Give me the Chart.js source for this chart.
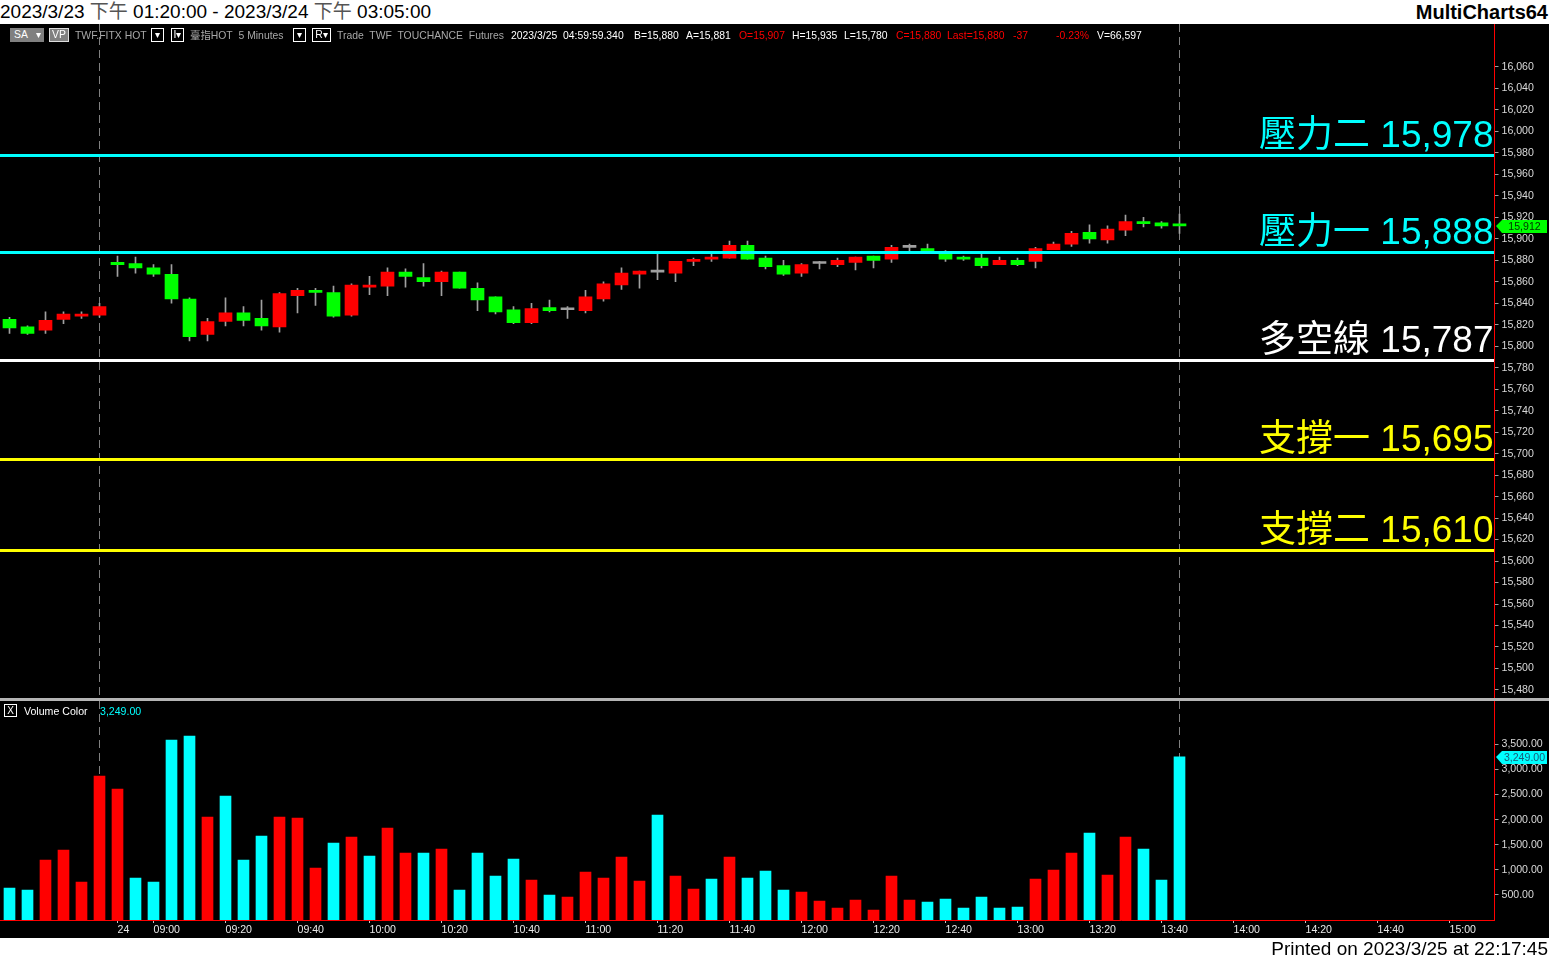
<!DOCTYPE html>
<html>
<head>
<meta charset="utf-8">
<script src="https://cdn.jsdelivr.net/npm/chart.js@4.4.0/dist/chart.umd.min.js"></script>
<style>
  body { margin: 0; width: 1549px; height: 960px; background: #fff; position: relative; overflow: hidden;
         font-family: 'Liberation Sans', Arial, 'Noto Sans CJK TC', sans-serif; }
  #title { position: absolute; left: 0; top: 0; height: 24px; line-height: 24px; font-size: 19px; color: #000; white-space: nowrap; }
  #title .cjk { color: #555; }
  #brand { position: absolute; right: 1px; top: 0; height: 24px; line-height: 24px; font-size: 20px; font-weight: bold; color: #000; }
  #panel { position: absolute; left: 0; top: 24px; width: 1549px; height: 914px; background: #000; }
  #printed { position: absolute; right: 1px; top: 937px; line-height: 23px; font-size: 19px; color: #000; }
  canvas { position: absolute; left: 0; }
  #priceChart { top: 24px; }
  #volChart { top: 701px; }
  #sep { position: absolute; left: 0; top: 698px; width: 1549px; height: 3px; background: #b4b4b4; }
  .st { position: absolute; top: 29px; font-size: 10.4px; line-height: 13px; white-space: nowrap; color: #a8a8a8; }
  .w { color: #fff; }
  .r { color: #ff0000; }
  .box { position: absolute; top: 28px; height: 12px; border: 1px solid #fff; font-size: 10.4px; line-height: 12px; color: #fff; text-align: center; }
  .gray { background: #808080; border-color: #808080; }
  .leg { position: absolute; top: 705px; font-size: 10.6px; line-height: 13px; white-space: nowrap; }
</style>
</head>
<body>
<div id="title">2023/3/23 <span class="cjk">下午</span> 01:20:00 - 2023/3/24 <span class="cjk">下午</span> 03:05:00</div>
<div id="brand">MultiCharts64</div>
<div id="panel"></div>
<canvas id="priceChart" width="1549" height="674"></canvas>
<div id="sep"></div>
<canvas id="volChart" width="1549" height="237"></canvas>
<div id="printed">Printed on 2023/3/25 at 22:17:45</div>

<!-- status line -->
<div class="box gray" style="left:10px;width:20px;">SA</div>
<div class="box gray" style="left:32px;width:10px;">&#9662;</div>
<div class="box gray" style="left:49px;width:18px;border-color:#ddd;">VP</div>
<div class="st" style="left:75px;">TWF.FITX HOT</div>
<div class="box" style="left:151px;width:11px;">&#9662;</div>
<div class="box" style="left:171px;width:11px;">I&#9662;</div>
<div class="st" style="left:190px;">臺指HOT&nbsp; 5 Minutes</div>
<div class="box" style="left:293px;width:11px;">&#9662;</div>
<div class="box" style="left:312px;width:17px;">R&#9662;</div>
<div class="st" style="left:337px;">Trade&nbsp; TWF&nbsp; TOUCHANCE&nbsp; Futures</div>
<div class="st w" style="left:511px;">2023/3/25&nbsp; 04:59:59.340</div>
<div class="st w" style="left:634px;">B=15,880</div>
<div class="st w" style="left:686px;">A=15,881</div>
<div class="st r" style="left:739px;">O=15,907</div>
<div class="st w" style="left:792px;">H=15,935</div>
<div class="st w" style="left:844px;">L=15,780</div>
<div class="st r" style="left:896px;">C=15,880</div>
<div class="st r" style="left:947px;">Last=15,880</div>
<div class="st r" style="left:1013px;">-37</div>
<div class="st r" style="left:1056px;">-0.23%</div>
<div class="st w" style="left:1097px;">V=66,597</div>

<!-- volume legend -->
<div class="box" style="left:4px;top:704px;width:11px;height:11px;line-height:11px;font-size:10px;">X</div>
<div class="leg" style="left:24px;color:#fff;">Volume Color</div>
<div class="leg" style="left:100px;color:#00ffff;">3,249.00</div>

<script>
// 5 分鐘 K 棒時間 (夜盤尾段 + 日盤 + 右側空白)
const times = [
  '04:35','04:40','04:45','04:50','04:55','05:00',
  '08:50','08:55','09:00','09:05','09:10','09:15','09:20','09:25','09:30','09:35',
  '09:40','09:45','09:50','09:55','10:00','10:05','10:10','10:15','10:20','10:25',
  '10:30','10:35','10:40','10:45','10:50','10:55','11:00','11:05','11:10','11:15',
  '11:20','11:25','11:30','11:35','11:40','11:45','11:50','11:55','12:00','12:05',
  '12:10','12:15','12:20','12:25','12:30','12:35','12:40','12:45','12:50','12:55',
  '13:00','13:05','13:10','13:15','13:20','13:25','13:30','13:35','13:40','13:45',
  '13:50','13:55','14:00','14:05','14:10','14:15','14:20','14:25','14:30','14:35',
  '14:40','14:45','14:50','14:55','15:00','15:05','15:10'
]
const xTickLabels = ['09:00','09:20','09:40','10:00','10:20','10:40','11:00','11:20','11:40',
  '12:00','12:20','12:40','13:00','13:20','13:40','14:00','14:20','14:40','15:00']
const dayStart = '08:50'
const dayStartText = '24'
const sessionEnds = ['05:00', '13:45']

// OHLC
const opens  = [15825,15818,15815,15825,15828,15829,15878,15877,15873,15867,15844,15811,15823,15831,15826,15818,15847,15852,15850,15829,15855,15856,15869,15864,15860,15869,15854,15846,15834,15822,15836,15834,15833,15844,15857,15867,15869,15868,15879,15881,15882,15894,15882,15875,15868,15877,15876,15878,15884,15881,15892,15891,15888,15883,15882,15876,15880,15879,15890,15895,15906,15899,15908,15916,15915,15914]
const highs  = [15827,15819,15832,15832,15832,15840,15884,15883,15876,15876,15845,15826,15845,15837,15843,15850,15854,15854,15856,15858,15865,15873,15872,15877,15870,15869,15859,15846,15837,15840,15843,15837,15852,15860,15873,15870,15886,15879,15882,15886,15898,15898,15884,15880,15877,15879,15882,15883,15884,15894,15895,15895,15889,15884,15886,15883,15882,15892,15897,15907,15913,15912,15922,15920,15916,15923]
const lows   = [15812,15811,15812,15821,15826,15827,15865,15868,15865,15840,15805,15805,15819,15819,15815,15813,15831,15838,15827,15828,15848,15847,15855,15856,15847,15854,15833,15830,15821,15821,15832,15826,15831,15842,15853,15854,15862,15860,15875,15879,15882,15881,15872,15866,15865,15872,15874,15871,15873,15878,15889,15888,15879,15880,15873,15876,15875,15873,15890,15893,15896,15896,15903,15911,15910,15905]
const closes = [15817,15812,15824,15830,15830,15837,15876,15873,15867,15844,15809,15823,15831,15824,15819,15849,15852,15850,15828,15857,15857,15869,15865,15860,15869,15854,15843,15832,15822,15835,15833,15834,15846,15858,15868,15870,15869,15879,15881,15883,15894,15881,15874,15867,15876,15877,15880,15883,15880,15892,15892,15888,15881,15881,15875,15880,15876,15891,15895,15905,15900,15909,15916,15914,15912,15912]

// 成交量 與 量的顏色 (1 = 紅, 0 = 青)
const volumes = [637,598,1195,1394,757,2869,2610,837,757,3586,3665,2052,2470,1195,1673,2052,2032,1036,1534,1653,1275,1833,1335,1335,1414,598,1335,876,1215,797,498,458,956,837,1255,777,2092,876,618,817,1255,837,976,598,558,378,239,398,199,876,398,359,418,239,458,239,259,817,996,1335,1733,896,1653,1414,797,3249]
const volumeRed = [0,0,1,1,1,1,1,0,0,0,0,1,0,0,0,1,1,1,0,1,0,1,1,0,1,0,0,0,0,1,0,1,1,1,1,1,0,1,1,0,1,0,0,0,1,1,1,1,1,1,1,0,0,0,0,0,0,1,1,1,0,1,1,0,0,0]

// 壓力 / 支撐
const levelNames  = ['壓力二', '壓力一', '多空線', '支撐一', '支撐二']
const levelValues = [15978, 15888, 15787, 15695, 15610]
const levelColors = ['#00ffff', '#00ffff', '#ffffff', '#ffff00', '#ffff00']

// 座標軸
const priceRange = { min: 15472.5, max: 16100, first: 15480, last: 16060, step: 20 }
const volRange   = { min: 0, max: 4362, first: 500, last: 3500, step: 500 }

const RED = '#ff0000'
const GREEN = '#00ff00'
const CYAN = '#00ffff'
const WICK = '#a0a0a0'
const axisFont = { family: "'Liberation Sans', Arial, sans-serif", size: 10.6 }

function fmt(v, d) {
    return v.toLocaleString('en-US', { minimumFractionDigits: d, maximumFractionDigits: d })
}

function tickText(i) {
    const t = times[i]
    if (t === dayStart) return dayStartText
    if (xTickLabels.includes(t)) return t
    return ''
}

// 日期/時段分隔虛線
const sessionPlugin = {
    id: 'sessions',
    beforeDatasetsDraw(chart) {
        const { ctx, chartArea, scales: { x } } = chart
        ctx.save()
        ctx.strokeStyle = '#808080'
        ctx.lineWidth = 1
        ctx.setLineDash([8, 5])
        sessionEnds.forEach(t => {
            const px = x.getPixelForValue(times.indexOf(t))
            ctx.beginPath()
            ctx.moveTo(px, chartArea.top)
            ctx.lineTo(px, chartArea.bottom)
            ctx.stroke()
        })
        ctx.restore()
    }
}

// 水平價位線 + 文字
const levelPlugin = {
    id: 'levels',
    afterDatasetsDraw(chart) {
        const { ctx, chartArea, scales: { y } } = chart
        ctx.save()
        ctx.font = "37px 'Liberation Sans', 'Noto Sans CJK TC', sans-serif"
        ctx.textAlign = 'right'
        ctx.textBaseline = 'alphabetic'
        for (let i = 0; i < levelValues.length; i++) {
            const py = Math.round(y.getPixelForValue(levelValues[i]))
            ctx.fillStyle = levelColors[i]
            ctx.fillRect(0, py - 1, Math.floor(chartArea.right), 3)
            ctx.fillText(levelNames[i] + ' ' + fmt(levelValues[i], 0), chartArea.right - 1, py - 8)
        }
        ctx.restore()
    }
}

// 座標軸上的最後數值標籤
function tagPlugin(getValue, text, bg, fg) {
    return {
        id: 'tag',
        afterDraw(chart) {
            const { ctx, chartArea, scales: { y } } = chart
            const v = getValue()
            const py = Math.round(y.getPixelForValue(v))
            const x0 = Math.round(chartArea.right) + 1
            const x1 = chart.width - 2
            ctx.save()
            ctx.fillStyle = bg
            ctx.beginPath()
            ctx.moveTo(x0, py)
            ctx.lineTo(x0 + 6, py - 6)
            ctx.lineTo(x1, py - 6)
            ctx.lineTo(x1, py + 7)
            ctx.lineTo(x0 + 6, py + 7)
            ctx.closePath()
            ctx.fill()
            ctx.fillStyle = fg
            ctx.font = "10.6px 'Liberation Sans', Arial, sans-serif"
            ctx.textAlign = 'center'
            ctx.textBaseline = 'middle'
            ctx.fillText(text(v), (x0 + 6 + x1) / 2, py + 1)
            ctx.restore()
        }
    }
}

function xScale(show) {
    return {
        type: 'category',
        labels: times,
        offset: true,
        display: show,
        grid: {
            offset: false,
            drawOnChartArea: false,
            drawTicks: true,
            tickLength: 3,
            color: c => tickText(c.index) ? '#c8c8c8' : 'rgba(0,0,0,0)'
        },
        border: { display: true, color: RED, width: 1 },
        ticks: {
            autoSkip: false,
            maxRotation: 0,
            minRotation: 0,
            align: 'start',
            padding: 1,
            color: '#e8e8e8',
            font: axisFont,
            callback: (v, i) => tickText(i)
        },
        afterFit: s => { s.height = show ? 18 : 0; s.paddingLeft = 0; s.paddingRight = 0 }
    }
}

function yScale(r, decimals) {
    return {
        position: 'right',
        min: r.min,
        max: r.max,
        ticks: { color: '#d8d8d8', font: axisFont, padding: 3, callback: v => fmt(v, decimals) },
        grid: { drawOnChartArea: false, drawTicks: true, tickLength: 4, color: '#a0a0a0' },
        border: { display: true, color: RED, width: 1 },
        afterBuildTicks: s => {
            const t = []
            for (let v = r.first; v <= r.last; v += r.step) t.push({ value: v })
            s.ticks = t
        },
        afterFit: s => { s.width = 54.5; s.paddingTop = 0; s.paddingBottom = 0 }
    }
}

// ---------------- 價格圖 ----------------
const priceChart = new Chart(document.getElementById('priceChart').getContext('2d'), {
    type: 'bar',
    data: {
        labels: times,
        datasets: [
            {
                label: 'body',
                data: opens.map((o, i) => [o, closes[i]]),
                backgroundColor: opens.map((o, i) => closes[i] > o ? RED : (closes[i] < o ? GREEN : WICK)),
                barThickness: 13,
                minBarLength: 2,
                grouped: false,
                order: 1
            },
            {
                label: 'wick',
                data: lows.map((l, i) => [l, highs[i]]),
                backgroundColor: WICK,
                barThickness: 1,
                grouped: false,
                order: 2
            }
        ]
    },
    options: {
        responsive: false,
        animation: false,
        layout: { padding: { left: 0.5 } },
        plugins: { legend: { display: false }, tooltip: { enabled: false } },
        scales: { x: xScale(false), y: yScale(priceRange, 0) }
    },
    plugins: [sessionPlugin, levelPlugin,
        tagPlugin(() => closes[closes.length - 1], v => fmt(v, 0), GREEN, '#003000')]
})

// ---------------- 成交量 ----------------
const volChart = new Chart(document.getElementById('volChart').getContext('2d'), {
    type: 'bar',
    data: {
        labels: times,
        datasets: [{
            label: 'Volume Color',
            data: volumes,
            backgroundColor: volumeRed.map(r => r ? RED : CYAN),
            barThickness: 11
        }]
    },
    options: {
        responsive: false,
        animation: false,
        layout: { padding: { left: 0.5 } },
        plugins: { legend: { display: false }, tooltip: { enabled: false } },
        scales: { x: xScale(true), y: yScale(volRange, 2) }
    },
    plugins: [sessionPlugin,
        tagPlugin(() => volumes[volumes.length - 1], v => fmt(v, 2), CYAN, '#1a5a78')]
})
</script>
</body>
</html>
